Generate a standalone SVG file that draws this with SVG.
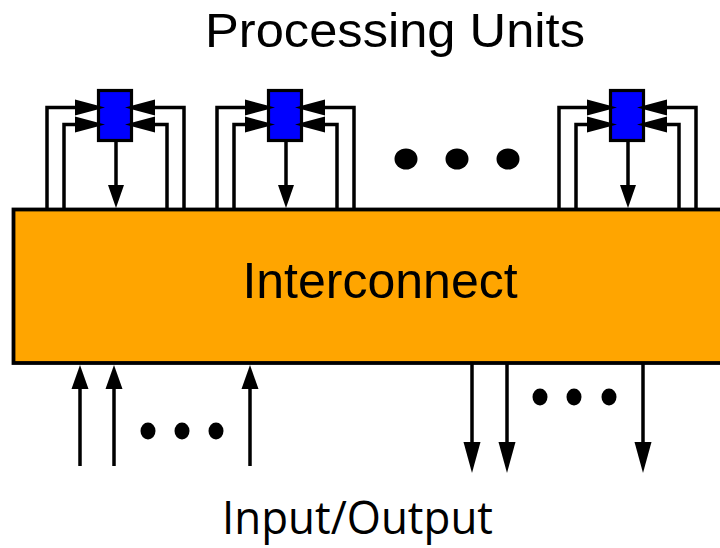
<svg xmlns="http://www.w3.org/2000/svg" width="720" height="548" viewBox="0 0 720 548">
<style>
.ln{fill:none;stroke:#000;stroke-width:3.5}
.pu{fill:#0000ff;stroke:#000;stroke-width:3.2}
.ic{fill:#ffa500;stroke:#000;stroke-width:3.8}
.dot{fill:#000}
.t{font-family:"Liberation Sans",Arial,sans-serif;fill:#000;text-anchor:middle}
.t2{font-family:"Open Sans","Liberation Sans",sans-serif;fill:#000;text-anchor:middle}
</style>
<defs>
<marker id="side" markerUnits="userSpaceOnUse" markerWidth="30" markerHeight="16" refX="5" refY="8" orient="auto" overflow="visible"><path d="M0,0 L30,8 L0,16 z" fill="#000"/></marker>
<marker id="pdown" markerUnits="userSpaceOnUse" markerWidth="23" markerHeight="16" refX="5" refY="8" orient="auto" overflow="visible"><path d="M0,0 L23,8 L0,16 z" fill="#000"/></marker>
<marker id="ioin" markerUnits="userSpaceOnUse" markerWidth="24" markerHeight="17" refX="5" refY="8.5" orient="auto" overflow="visible"><path d="M0,0 L24,8.5 L0,17 z" fill="#000"/></marker>
<marker id="ioout" markerUnits="userSpaceOnUse" markerWidth="31" markerHeight="17" refX="5" refY="8.5" orient="auto" overflow="visible"><path d="M0,0 L31,8.5 L0,17 z" fill="#000"/></marker>
</defs>
<text class="t" x="395" y="47" font-size="48" textLength="380" lengthAdjust="spacingAndGlyphs">Processing Units</text>
<g id="interconnect">
<rect class="ic" x="13.5" y="209.5" width="720" height="153.5"/>
<text class="t" x="380" y="298" font-size="50">Interconnect</text>
</g>
<g id="pu1"><rect class="pu" x="98.5" y="90.5" width="33" height="50"/></g>
<g id="pu2"><rect class="pu" x="268.5" y="90.5" width="33" height="50"/></g>
<g id="pu3"><rect class="pu" x="610.5" y="90.5" width="33" height="50"/></g>
<g id="connectors">
<g id="pu1-links">
<path class="ln" d="M47,209 V107.5 H80" marker-end="url(#side)"/>
<path class="ln" d="M64,209 V124.5 H80" marker-end="url(#side)"/>
<path class="ln" d="M184,209 V107.5 H150" marker-end="url(#side)"/>
<path class="ln" d="M167,209 V124.5 H150" marker-end="url(#side)"/>
<path class="ln" d="M116,142 V190" marker-end="url(#pdown)"/>
</g>
<g id="pu2-links" transform="translate(170,0)">
<path class="ln" d="M47,209 V107.5 H80" marker-end="url(#side)"/>
<path class="ln" d="M64,209 V124.5 H80" marker-end="url(#side)"/>
<path class="ln" d="M184,209 V107.5 H150" marker-end="url(#side)"/>
<path class="ln" d="M167,209 V124.5 H150" marker-end="url(#side)"/>
<path class="ln" d="M116,142 V190" marker-end="url(#pdown)"/>
</g>
<g id="pu3-links" transform="translate(512,0)">
<path class="ln" d="M47,209 V107.5 H80" marker-end="url(#side)"/>
<path class="ln" d="M64,209 V124.5 H80" marker-end="url(#side)"/>
<path class="ln" d="M184,209 V107.5 H150" marker-end="url(#side)"/>
<path class="ln" d="M167,209 V124.5 H150" marker-end="url(#side)"/>
<path class="ln" d="M116,142 V190" marker-end="url(#pdown)"/>
</g>
<g id="inputs">
<path class="ln" d="M80,466 V384" marker-end="url(#ioin)"/>
<path class="ln" d="M114,466 V384" marker-end="url(#ioin)"/>
<path class="ln" d="M250,466 V384" marker-end="url(#ioin)"/>
</g>
<g id="outputs">
<path class="ln" d="M472,364 V447" marker-end="url(#ioout)"/>
<path class="ln" d="M507,364 V447" marker-end="url(#ioout)"/>
<path class="ln" d="M643,364 V447" marker-end="url(#ioout)"/>
</g>
</g>
<g id="pu-ellipsis">
<ellipse class="dot" cx="406" cy="159" rx="11.5" ry="10.5"/>
<ellipse class="dot" cx="457" cy="159" rx="11.5" ry="10.5"/>
<ellipse class="dot" cx="508" cy="159" rx="11.5" ry="10.5"/>
</g>
<g id="in-ellipsis">
<ellipse class="dot" cx="148" cy="431" rx="7.5" ry="8.5"/>
<ellipse class="dot" cx="182" cy="431" rx="7.5" ry="8.5"/>
<ellipse class="dot" cx="216" cy="431" rx="7.5" ry="8.5"/>
</g>
<g id="out-ellipsis">
<ellipse class="dot" cx="540" cy="397" rx="7.5" ry="8.5"/>
<ellipse class="dot" cx="574" cy="397" rx="7.5" ry="8.5"/>
<ellipse class="dot" cx="609" cy="397" rx="7.5" ry="8.5"/>
</g>
<text class="t2" x="357.5" y="534" font-size="45" textLength="271" lengthAdjust="spacingAndGlyphs">Input/Output</text>
</svg>
